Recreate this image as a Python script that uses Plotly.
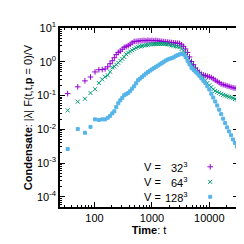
import plotly.graph_objects as go

# time values
t = [34, 51, 68, 85, 102, 119, 136, 153, 170, 187, 204,
     221, 239, 259, 281, 304, 329, 356, 386, 418, 452, 490, 530, 574, 621, 672, 728,
     788, 853, 924, 1000, 1083, 1172, 1269, 1374, 1487, 1610, 1743, 1888, 2044, 2212,
     2395, 2593, 2807, 3039, 3290, 3562, 3857, 4176, 4521, 4895, 5300, 5738, 6212,
     6726, 7282, 7884, 8536, 9241, 10000, 10830, 11720, 12690, 13740, 14870, 16100,
     17430, 18880, 20440, 22120, 23950, 25930, 28070, 30390]

f32 = [0.114, 0.181, 0.272, 0.354, 0.50, 0.58, 0.59, 0.615, 0.71, 0.877, 1.07,
       1.32, 1.63, 1.89, 2.06, 2.35, 2.68, 2.81, 3.0, 3.29, 3.63, 3.98, 4.03, 4.11, 4.17, 4.25, 4.3,
       4.2, 4.35, 4.25, 4.3, 4.2, 4.3, 4.2, 4.1, 4.05, 3.96, 3.88, 3.83, 3.76, 3.7,
       3.63, 3.58, 3.53, 3.49, 3.16, 2.86, 2.40, 1.89, 1.39, 1.02, 0.82, 0.656, 0.553,
       0.485, 0.425, 0.406, 0.39, 0.373, 0.358, 0.342, 0.314, 0.286, 0.263, 0.241, 0.22,
       0.21, 0.202, 0.193, 0.186, 0.177, 0.17, 0.165, 0.16]

f64 = [0.0363, 0.066, 0.0805, 0.119, 0.154, 0.235, 0.30, 0.358, 0.398, 0.505, 0.674,
       0.72, 0.82, 0.936, 1.07, 1.22, 1.39, 1.67, 1.86, 2.02, 2.2, 2.4, 2.61, 2.77, 2.86, 2.94, 3.02,
       3.1, 3.18, 3.27, 3.29, 3.33, 3.36, 3.38, 3.38, 3.38, 3.38, 3.38, 3.31, 3.18, 3.06,
       2.98, 2.88, 2.81, 2.74, 2.4, 2.1, 1.73, 1.33, 1.02, 0.84, 0.70, 0.58, 0.494,
       0.43, 0.375, 0.327, 0.272, 0.234, 0.201, 0.178, 0.153, 0.137, 0.128, 0.12, 0.112,
       0.105, 0.1, 0.0955, 0.0918, 0.0877, 0.0832, 0.0789, 0.0753]

f128 = [0.0026, 0.0102, 0.0079, 0.0118, 0.0197, 0.0189, 0.0197, 0.0197, 0.022, 0.0251, 0.0296,
        0.0342, 0.0454, 0.059, 0.072, 0.0854, 0.102, 0.11, 0.119, 0.135, 0.16, 0.189, 0.231, 0.284, 0.318, 0.356, 0.398,
        0.448, 0.498, 0.546, 0.595, 0.652, 0.706, 0.769, 0.838, 0.912, 1.0, 1.09, 1.17, 1.23, 1.28,
        1.35, 1.47, 1.57, 1.66, 1.75, 1.64, 1.39, 1.07, 0.838, 0.661, 0.58, 0.508, 0.446,
        0.383, 0.325, 0.274, 0.234, 0.188, 0.151, 0.113, 0.0871, 0.0665, 0.0508, 0.038, 0.0281,
        0.0206, 0.0153, 0.0114, 0.00865, 0.00665, 0.00498, 0.00393, 0.00306]

labels = ["32", "64", "128"]
colors = ["#9400d3", "#009e73", "#56b4e9"]
symbols = ["cross-thin-open", "x-thin-open", "square"]
sizes = [4, 4, 3]

FONT = "Liberation Sans, Arial, sans-serif"
FS = 11
fig = go.Figure()
for ys, c, s, sz in zip([f32, f64, f128], colors, symbols, sizes):
    fig.add_trace(go.Scatter(x=t, y=ys, mode="markers",
                             marker=dict(symbol=s, size=sz, color=c,
                                         line=dict(width=1, color=c)),
                             showlegend=False))

# legend samples on an overlay axis
leg_y = [0.2246, 0.1406, 0.0572]
for i in range(3):
    fig.add_trace(go.Scatter(x=[0.844], y=[leg_y[i]], mode="markers", xaxis="x2", yaxis="y2",
                             marker=dict(symbol=symbols[i], size=sizes[i], color=colors[i],
                                         line=dict(width=1, color=colors[i])),
                             showlegend=False))

ann = []
for i in range(3):
    ann.append(dict(x=0.461, y=leg_y[i], xref="paper", yref="paper", text="V =",
                    showarrow=False, xanchor="left", yanchor="middle",
                    font=dict(size=FS, family=FONT, color="black")))
    ann.append(dict(x=0.728, y=leg_y[i], xref="paper", yref="paper",
                    text=labels[i] + "<sup>3</sup>",
                    showarrow=False, xanchor="right", yanchor="middle",
                    font=dict(size=FS, family=FONT, color="black")))

xminor = [k * 10 ** n for n in range(1, 5) for k in range(2, 10)]
yminor = [k * 10.0 ** n for n in range(-5, 1) for k in range(2, 10)]

fig.update_layout(
    width=244, height=244,
    margin=dict(l=52, r=12, t=12, b=45),
    plot_bgcolor="white", paper_bgcolor="white",
    font=dict(family=FONT, size=FS, color="black"),
    annotations=ann,
    xaxis=dict(type="log", range=[1.398, 4.5], showgrid=False, zeroline=False,
               showline=True, linecolor="black", linewidth=1.5, mirror="allticks",
               ticks="inside", ticklen=5, tickcolor="black",
               tickmode="array", tickvals=[100, 1000, 10000], ticktext=["100", "1000", "10000"],
               tickfont=dict(size=FS),
               minor=dict(tickmode="array", tickvals=xminor, ticks="inside", ticklen=2.5,
                          tickcolor="black", showgrid=False),
               title=dict(text="<b>Time</b>: t", standoff=3, font=dict(size=FS))),
    yaxis=dict(type="log", range=[-4.301, 1.0], showgrid=False, zeroline=False,
               showline=True, linecolor="black", linewidth=1.5, mirror="allticks",
               ticks="inside", ticklen=5, tickcolor="black",
               tickmode="array", tickvals=[1e-4, 1e-3, 1e-2, 1e-1, 1, 10],
               ticktext=["10<sup>-4</sup>", "10<sup>-3</sup>", "10<sup>-2</sup>",
                         "10<sup>-1</sup>", "10<sup>0</sup>", "10<sup>1</sup>"],
               tickfont=dict(size=FS),
               minor=dict(tickmode="array", tickvals=yminor, ticks="inside", ticklen=2.5,
                          tickcolor="black", showgrid=False),
               title=dict(text="<b>Condensate</b>: |λ| F(t,t,<b>p</b> = 0)/V", standoff=2,
                          font=dict(size=FS))),
    xaxis2=dict(overlaying="x", range=[0, 1], visible=False),
    yaxis2=dict(overlaying="y", range=[0, 1], visible=False),
)

fig.write_html("out.html")
